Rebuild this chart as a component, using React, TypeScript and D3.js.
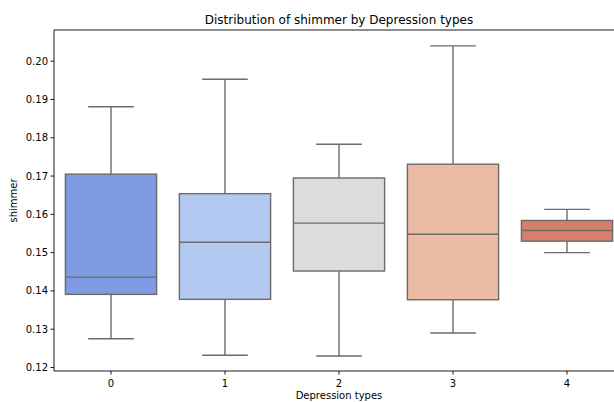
import React from "react";
import * as d3 from "d3";

// data
const categories = ["0", "1", "2", "3", "4"];
const whiskerLow = [0.1275, 0.1232, 0.123, 0.129, 0.15];
const q1 = [0.1391, 0.1378, 0.1452, 0.1377, 0.153];
const medians = [0.1436, 0.1527, 0.1577, 0.1548, 0.1558];
const q3 = [0.1705, 0.1654, 0.1695, 0.1731, 0.1584];
const whiskerHigh = [0.1881, 0.1953, 0.1783, 0.204, 0.1613];
const palette = ["#7f9be4", "#b4c9f2", "#dcdcdc", "#ecbba4", "#d77f6b"];
const yTicks = [0.12, 0.13, 0.14, 0.15, 0.16, 0.17, 0.18, 0.19, 0.2];

const W = 614;
const H = 402;
const margin = { left: 54, top: 30, bottom: 371 };
const font = "DejaVu Sans, sans-serif";
const lineCol = "#6b6b6b";

const App = () => {
    const x = d3.scaleLinear().domain([-0.5, 4.5]).range([margin.left, 624]);
    const y = d3.scaleLinear().domain([0.12, 0.2]).range([367.5, 61.2]);
    const bw = (x(1) - x(0)) * 0.8;
    const capW = bw * 0.5;

    return (
        <svg width={W} height={H} style={{ position: "absolute", left: 0, top: 0 }}>
            <rect width={W} height={H} fill="#fff" />
            <text x={(margin.left + 624) / 2} y={24} textAnchor="middle" fontFamily={font} fontSize={12}>
                Distribution of shimmer by Depression types
            </text>

            {categories.map((c, i) => {
                const cx = x(i);
                return (
                    <g key={c} stroke={lineCol} strokeWidth={1.4}>
                        <line x1={cx} x2={cx} y1={y(q3[i])} y2={y(whiskerHigh[i])} />
                        <line x1={cx} x2={cx} y1={y(q1[i])} y2={y(whiskerLow[i])} />
                        <line x1={cx - capW / 2} x2={cx + capW / 2} y1={y(whiskerHigh[i])} y2={y(whiskerHigh[i])} />
                        <line x1={cx - capW / 2} x2={cx + capW / 2} y1={y(whiskerLow[i])} y2={y(whiskerLow[i])} />
                        <rect
                            x={cx - bw / 2}
                            y={y(q3[i])}
                            width={bw}
                            height={y(q1[i]) - y(q3[i])}
                            fill={palette[i]}
                        />
                        <line x1={cx - bw / 2} x2={cx + bw / 2} y1={y(medians[i])} y2={y(medians[i])} />
                    </g>
                );
            })}

            {/* frame */}
            <line x1={margin.left} x2={margin.left} y1={margin.top} y2={margin.bottom} stroke="#000" strokeWidth={0.9} />
            <line x1={margin.left} x2={624} y1={margin.bottom} y2={margin.bottom} stroke="#000" strokeWidth={0.9} />
            <line x1={margin.left} x2={624} y1={margin.top} y2={margin.top} stroke="#000" strokeWidth={0.9} />

            {yTicks.map((t) => (
                <g key={t} transform={`translate(${margin.left},${y(t)})`}>
                    <line x1={-3.5} x2={0} stroke="#000" strokeWidth={0.9} />
                    <text x={-6} dy="0.35em" textAnchor="end" fontFamily={font} fontSize={10}>
                        {d3.format(".2f")(t)}
                    </text>
                </g>
            ))}
            {categories.map((c, i) => (
                <g key={c} transform={`translate(${x(i)},${margin.bottom})`}>
                    <line y1={0} y2={3.5} stroke="#000" strokeWidth={0.9} />
                    <text y={16} textAnchor="middle" fontFamily={font} fontSize={10}>
                        {c}
                    </text>
                </g>
            ))}

            <text x={(margin.left + 624) / 2} y={399} textAnchor="middle" fontFamily={font} fontSize={10}>
                Depression types
            </text>
            <text
                transform={`translate(17,${(margin.top + margin.bottom) / 2}) rotate(-90)`}
                textAnchor="middle"
                fontFamily={font}
                fontSize={10}
            >
                shimmer
            </text>
        </svg>
    );
};

export default App;
